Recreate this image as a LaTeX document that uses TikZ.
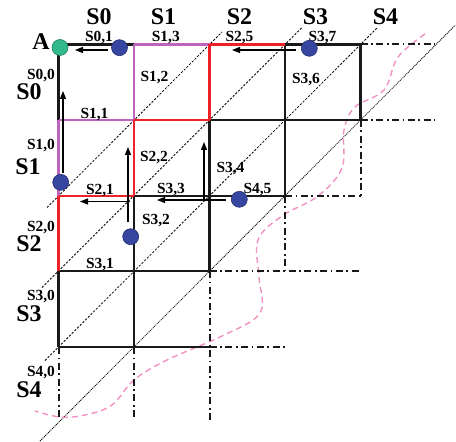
\documentclass[tikz,border=0pt]{standalone}
\usepackage{fontspec}
\setmainfont{Liberation Serif}
\usetikzlibrary{arrows.meta,calc}
\definecolor{gridred}{RGB}{238,32,40}
\definecolor{gridpurple}{RGB}{190,100,190}
\definecolor{dotblue}{RGB}{55,70,160}
\definecolor{dotgreen}{RGB}{50,185,140}
\definecolor{curvepink}{RGB}{242,145,195}
\begin{document}
\begin{tikzpicture}[x=1bp,y=-1bp,
  gl/.style={line width=2.1bp,black!90},
  redl/.style={line width=2.1bp,gridred},
  purl/.style={line width=2.1bp,gridpurple},
  dashdot/.style={line width=2bp,black!90,dash pattern=on 7bp off 3.5bp on 1.8bp off 3.5bp},
  diag/.style={line width=0.8bp,black,dash pattern=on 2.2bp off 1.6bp},
  diagfine/.style={line width=0.8bp,black,dash pattern=on 1bp off 0.9bp},
  arr/.style={line width=1.3bp,black,-{Triangle[length=8bp,width=6bp]}},
  bigl/.style={font=\fontsize{24}{24}\selectfont\bfseries,inner sep=0,anchor=base},
  smalll/.style={font=\fontsize{15.5}{15.5}\selectfont\bfseries,inner sep=0,anchor=base},
  bdot/.style={circle,minimum size=16bp,inner sep=0,fill=dotblue,draw=dotblue!70!black,line width=0.6bp},
  gdot/.style={circle,minimum size=16bp,inner sep=0,fill=dotgreen,draw=dotgreen!70!black,line width=0.6bp},
  pinkcurve/.style={line width=1.4bp,curvepink,dash pattern=on 6bp off 4bp}
]
\path[use as bounding box] (0,0) rectangle (456,442);
% grid coordinates
\foreach \c/\x in {0/58.5,1/134,2/209.5,3/285,4/360.5}{
  \foreach \r/\y in {0/44.5,1/120,2/196,3/271,4/347}{
    \coordinate (g\c\r) at (\x,\y);
  }
}
\coordinate (e0) at (435,44.5);
\coordinate (e1) at (435,120);
\coordinate (b0) at (58.5,420);
\coordinate (b1) at (134,420);
\coordinate (b2) at (209.5,420);

% diagonals
\draw[diag] ($(g02)+(-11.5,11.5)$) -- ($(g20)+(12.5,-12.5)$);
\draw[diag] ($(g03)+(-16.5,16.5)$) -- ($(g30)+(17,-17)$);
\draw[diag] ($(g04)+(-13.5,13.5)$) -- ($(g40)+(16.5,-16.5)$);
\draw[diagfine] ($(g14)+(-94,94)$) -- ($(g41)+(94.5,-94.5)$);

% pink curve
\draw[pinkcurve] plot[smooth,tension=0.6] coordinates {(425,34) (398,57) (384,90) (355,107) (344,130) (342,168) (318,196) (282,216) (258,240) (259,277) (260,313) (222,336) (167,360) (134,380) (112,405) (85,415) (60,417) (35,411)};

% dash-dot lines
\draw[dashdot] (g40) -- (e0);
\draw[dashdot] (g41) -- (e1);
\draw[dashdot] (g41) -- (g42);
\draw[dashdot] (g32) -- (g42);
\draw[dashdot] (g32) -- (g33);
\draw[dashdot] (g23) -- (g43);
\draw[dashdot] (g23) -- (b2);
\draw[dashdot] (g24) -- (g34);
\draw[dashdot] (g14) -- (b1);
\draw[dashdot] (g04) -- (b0);

% black solid grid
\draw[gl] (g00) -- (g10);
\draw[gl] (g30) -- (g40);
\draw[gl] (g21) -- (g41);
\draw[gl] (g12) -- (g32);
\draw[gl] (g03) -- (g23);
\draw[gl] (g04) -- (g24);
\draw[gl] (g00) -- (g01);
\draw[gl] (g03) -- (g04);
\draw[gl] (g12) -- (g14);
\draw[gl] (g21) -- (g23);
\draw[gl] (g30) -- (g32);
\draw[gl] (g40) -- (g41);
% purple staircase
\draw[purl] (g10) -- (g20);
\draw[purl] (g01) -- (g11);
\draw[purl] (g01) -- (g02);
\draw[purl] (g10) -- (g11);
% red staircase
\draw[redl] (g20) -- (g30);
\draw[redl] (g11) -- (g21);
\draw[redl] (g02) -- (g12);
\draw[redl] (g02) -- (g03);
\draw[redl] (g11) -- (g12);
\draw[redl] (g20) -- (g21);

% arrows
\coordinate (a1s) at (108,50);   \coordinate (a1e) at (75,50);
\coordinate (a2s) at (63,173);   \coordinate (a2e) at (63,91);
\coordinate (a3s) at (128,222);  \coordinate (a3e) at (128,147);
\coordinate (a4s) at (130,201.5);\coordinate (a4e) at (80,201.5);
\coordinate (a5s) at (204,200);  \coordinate (a5e) at (204,142);
\coordinate (a6s) at (226,200);  \coordinate (a6e) at (157,200);
\coordinate (a7s) at (296,50);   \coordinate (a7e) at (232,50);
\draw[arr] (a1s) -- (a1e);
\draw[arr] (a2s) -- (a2e);
\draw[arr] (a3s) -- (a3e);
\draw[arr] (a4s) -- (a4e);
\draw[arr] (a5s) -- (a5e);
\draw[arr] (a6s) -- (a6e);
\draw[arr] (a7s) -- (a7e);

% big labels
\node[bigl] (hS0) at (99,25) {S0};
\node[bigl] (hS1) at (163.5,25) {S1};
\node[bigl] (hS2) at (239.5,25) {S2};
\node[bigl] (hS3) at (315.5,25) {S3};
\node[bigl] (hS4) at (385.5,25) {S4};
\node[bigl] (lS0) at (29,100) {S0};
\node[bigl] (lS1) at (28,175) {S1};
\node[bigl] (lS2) at (29,251.5) {S2};
\node[bigl] (lS3) at (29,321) {S3};
\node[bigl] (lS4) at (29,397) {S4};
\node[bigl] (tA) at (41,50) {A};

% small labels
\node[smalll] (t01) at (99,41.7) {S0,1};
\node[smalll] (t13) at (165.8,41.7) {S1,3};
\node[smalll] (t25) at (239.5,41.7) {S2,5};
\node[smalll] (t37) at (322.5,41.7) {S3,7};
\node[smalll] (t12) at (154.5,81.7) {S1,2};
\node[smalll] (t00) at (41,80) {S0,0};
\node[smalll] (t11) at (94.5,118.3) {S1,1};
\node[smalll] (t10) at (41,150) {S1,0};
\node[smalll] (t22) at (154,161.7) {S2,2};
\node[smalll] (t36) at (306,84) {S3,6};
\node[smalll] (t34) at (230.5,172.7) {S3,4};
\node[smalll] (t21) at (100,195) {S2,1};
\node[smalll] (t33) at (171,193.3) {S3,3};
\node[smalll] (t45) at (257.5,193.3) {S4,5};
\node[smalll] (t20) at (41,231.7) {S2,0};
\node[smalll] (t32) at (156,225) {S3,2};
\node[smalll] (t31) at (100,268) {S3,1};
\node[smalll] (t30) at (41,300.7) {S3,0};
\node[smalll] (t40) at (41,376.7) {S4,0};

% dots
\node[gdot] (dA) at (60,47.5) {};
\node[bdot] (d01) at (119.5,47.7) {};
\node[bdot] (d10) at (60.7,182.3) {};
\node[bdot] (d32) at (130.7,236.7) {};
\node[bdot] (d45) at (239.3,199.3) {};
\node[bdot] (d37) at (309.3,48.3) {};
\end{tikzpicture}
\end{document}
